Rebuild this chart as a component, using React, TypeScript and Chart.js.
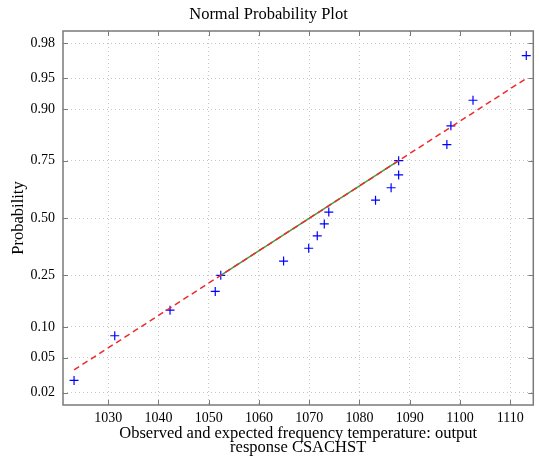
import React, { useEffect, useRef } from "react";
import { Chart, registerables } from "chart.js";

Chart.register(...registerables);

// ---- data ----
const observedValues = [
  1023.2, 1031.3, 1042.3, 1051.3, 1052.4, 1064.9, 1069.9, 1071.6, 1073.0,
  1073.9, 1083.2, 1086.3, 1087.8, 1087.8, 1097.4, 1098.2, 1102.6, 1113.2,
];
const plotProbabilities = [
  0.028, 0.083, 0.139, 0.194, 0.25, 0.306, 0.361, 0.417, 0.472,
  0.528, 0.583, 0.639, 0.694, 0.75, 0.806, 0.861, 0.917, 0.972,
];
const quartileX = [1052.4, 1087.8];
const quartileP = [0.25, 0.75];
const fitLineX = [1023.2, 1113.2];
const fitLineP = [0.037, 0.9497];
const xTickValues = [1030, 1040, 1050, 1060, 1070, 1080, 1090, 1100, 1110];
const yTickProbs = [0.02, 0.05, 0.1, 0.25, 0.5, 0.75, 0.9, 0.95, 0.98];
const yTickLabels = ["0.02", "0.05", "0.10", "0.25", "0.50", "0.75", "0.90", "0.95", "0.98"];
const xLimits = [1021, 1114.6];
const zLimits = [-2.2, 2.2];

// inverse standard normal CDF (Acklam)
function probit(p: number): number {
  const a = [-39.69683028665376, 220.9460984245205, -275.9285104469687, 138.357751867269, -30.66479806614716, 2.506628277459239];
  const b = [-54.47609879822406, 161.5858368580409, -155.6989798598866, 66.80131188771972, -13.28068155288572];
  const c = [-0.007784894002430293, -0.3223964580411365, -2.400758277161838, -2.549732539343734, 4.374664141464968, 2.938163982698783];
  const d = [0.007784695709041462, 0.3224671290700398, 2.445134137142996, 3.754408661907416];
  const pl = 0.02425;
  if (p < pl) {
    const q = Math.sqrt(-2 * Math.log(p));
    return (((((c[0] * q + c[1]) * q + c[2]) * q + c[3]) * q + c[4]) * q + c[5]) /
      ((((d[0] * q + d[1]) * q + d[2]) * q + d[3]) * q + 1);
  }
  if (p > 1 - pl) {
    const q = Math.sqrt(-2 * Math.log(1 - p));
    return -(((((c[0] * q + c[1]) * q + c[2]) * q + c[3]) * q + c[4]) * q + c[5]) /
      ((((d[0] * q + d[1]) * q + d[2]) * q + d[3]) * q + 1);
  }
  const q = p - 0.5;
  const r = q * q;
  return (((((a[0] * r + a[1]) * r + a[2]) * r + a[3]) * r + a[4]) * r + a[5]) * q /
    (((((b[0] * r + b[1]) * r + b[2]) * r + b[3]) * r + b[4]) * r + 1);
}

const FONT = "'Liberation Serif', 'Times New Roman', serif";

const framePlugin = {
  id: "frame",
  afterDatasetsDraw(chart: any) {
    const { ctx, chartArea: a, scales } = chart;
    const x = scales.x;
    const y = scales.y;
    ctx.save();
    ctx.strokeStyle = "#7a7a7a";
    ctx.lineWidth = 1;
    ctx.beginPath();
    xTickValues.forEach((v) => {
      const px = Math.round(x.getPixelForValue(v)) + 0.5;
      ctx.moveTo(px, a.bottom);
      ctx.lineTo(px, a.bottom - 5);
      ctx.moveTo(px, a.top);
      ctx.lineTo(px, a.top + 5);
    });
    yTickProbs.forEach((p) => {
      const py = Math.round(y.getPixelForValue(probit(p))) + 0.5;
      ctx.moveTo(a.left, py);
      ctx.lineTo(a.left + 5, py);
      ctx.moveTo(a.right, py);
      ctx.lineTo(a.right - 5, py);
    });
    ctx.stroke();
    ctx.lineWidth = 1.5;
    ctx.strokeRect(a.left, a.top, a.right - a.left, a.bottom - a.top);
    ctx.restore();
  },
};

export default function App() {
  const canvasRef = useRef<HTMLCanvasElement | null>(null);

  useEffect(() => {
    if (!canvasRef.current) return;
    const points = observedValues.map((v, i) => ({ x: v, y: probit(plotProbabilities[i]) }));
    const quart = quartileX.map((v, i) => ({ x: v, y: probit(quartileP[i]) }));
    const fit = fitLineX.map((v, i) => ({ x: v, y: probit(fitLineP[i]) }));

    const chart = new Chart(canvasRef.current, {
      type: "scatter",
      data: {
        datasets: [
          {
            label: "fit",
            data: fit,
            showLine: true,
            borderColor: "#ee2a2a",
            borderWidth: 1.5,
            borderDash: [6, 4],
            pointRadius: 0,
            order: 0,
          },
          {
            label: "quartiles",
            data: quart,
            showLine: true,
            borderColor: "#3f9f3f",
            borderWidth: 1.5,
            pointRadius: 0,
            order: 1,
          },
          {
            label: "data",
            data: points,
            pointStyle: "cross",
            pointRadius: 4.5,
            borderColor: "#0000ff",
            borderWidth: 1.2,
            showLine: false,
            order: 2,
          },
        ],
      },
      options: {
        animation: false,
        responsive: false,
        devicePixelRatio: 1,
        layout: { padding: { left: 0, right: 2, top: 0, bottom: 0 } },
        plugins: {
          legend: { display: false },
          tooltip: { enabled: false },
          title: {
            display: true,
            text: "Normal Probability Plot",
            color: "#000",
            font: { family: FONT, size: 16.5, weight: "normal", lineHeight: 1.2 },
            padding: { top: 5, bottom: 6.2 },
          },
        },
        scales: {
          x: {
            type: "linear",
            min: xLimits[0],
            max: xLimits[1],
            afterBuildTicks: (scale: any) => {
              scale.ticks = xTickValues.map((v) => ({ value: v }));
            },
            afterFit: (scale: any) => {
              scale.height = 57;
            },
            ticks: {
              color: "#000",
              padding: 5,
              font: { family: FONT, size: 14 },
              callback: (v: any) => String(v),
            },
            grid: { color: "#c8c8c8", lineWidth: 1, drawTicks: false },
            border: { display: false, dash: [1, 3] },
            title: {
              display: true,
              text: ["Observed and expected frequency temperature: output", "response CSACHST"],
              color: "#000",
              font: { family: FONT, size: 16.5, lineHeight: 0.85 },
              padding: { top: 0, bottom: 7 },
            },
          },
          y: {
            type: "linear",
            min: zLimits[0],
            max: zLimits[1],
            afterBuildTicks: (scale: any) => {
              scale.ticks = yTickProbs.map((p) => ({ value: probit(p) }));
            },
            afterFit: (scale: any) => {
              scale.width = 63;
            },
            ticks: {
              color: "#000",
              padding: 8,
              font: { family: FONT, size: 14 },
              callback: (_v: any, i: number) => yTickLabels[i],
            },
            grid: { color: "#c8c8c8", lineWidth: 1, drawTicks: false },
            border: { display: false, dash: [1, 3] },
            title: {
              display: true,
              text: "Probability",
              color: "#000",
              font: { family: FONT, size: 16.5, lineHeight: 1.2 },
              padding: { top: 8.6, bottom: 0 },
            },
          },
        },
      },
      plugins: [framePlugin],
    } as any);

    return () => chart.destroy();
  }, []);

  return (
    <div style={{ position: "absolute", left: 0, top: 0, width: 539, height: 462, background: "#fff" }}>
      <canvas ref={canvasRef} width={539} height={462} />
    </div>
  );
}
